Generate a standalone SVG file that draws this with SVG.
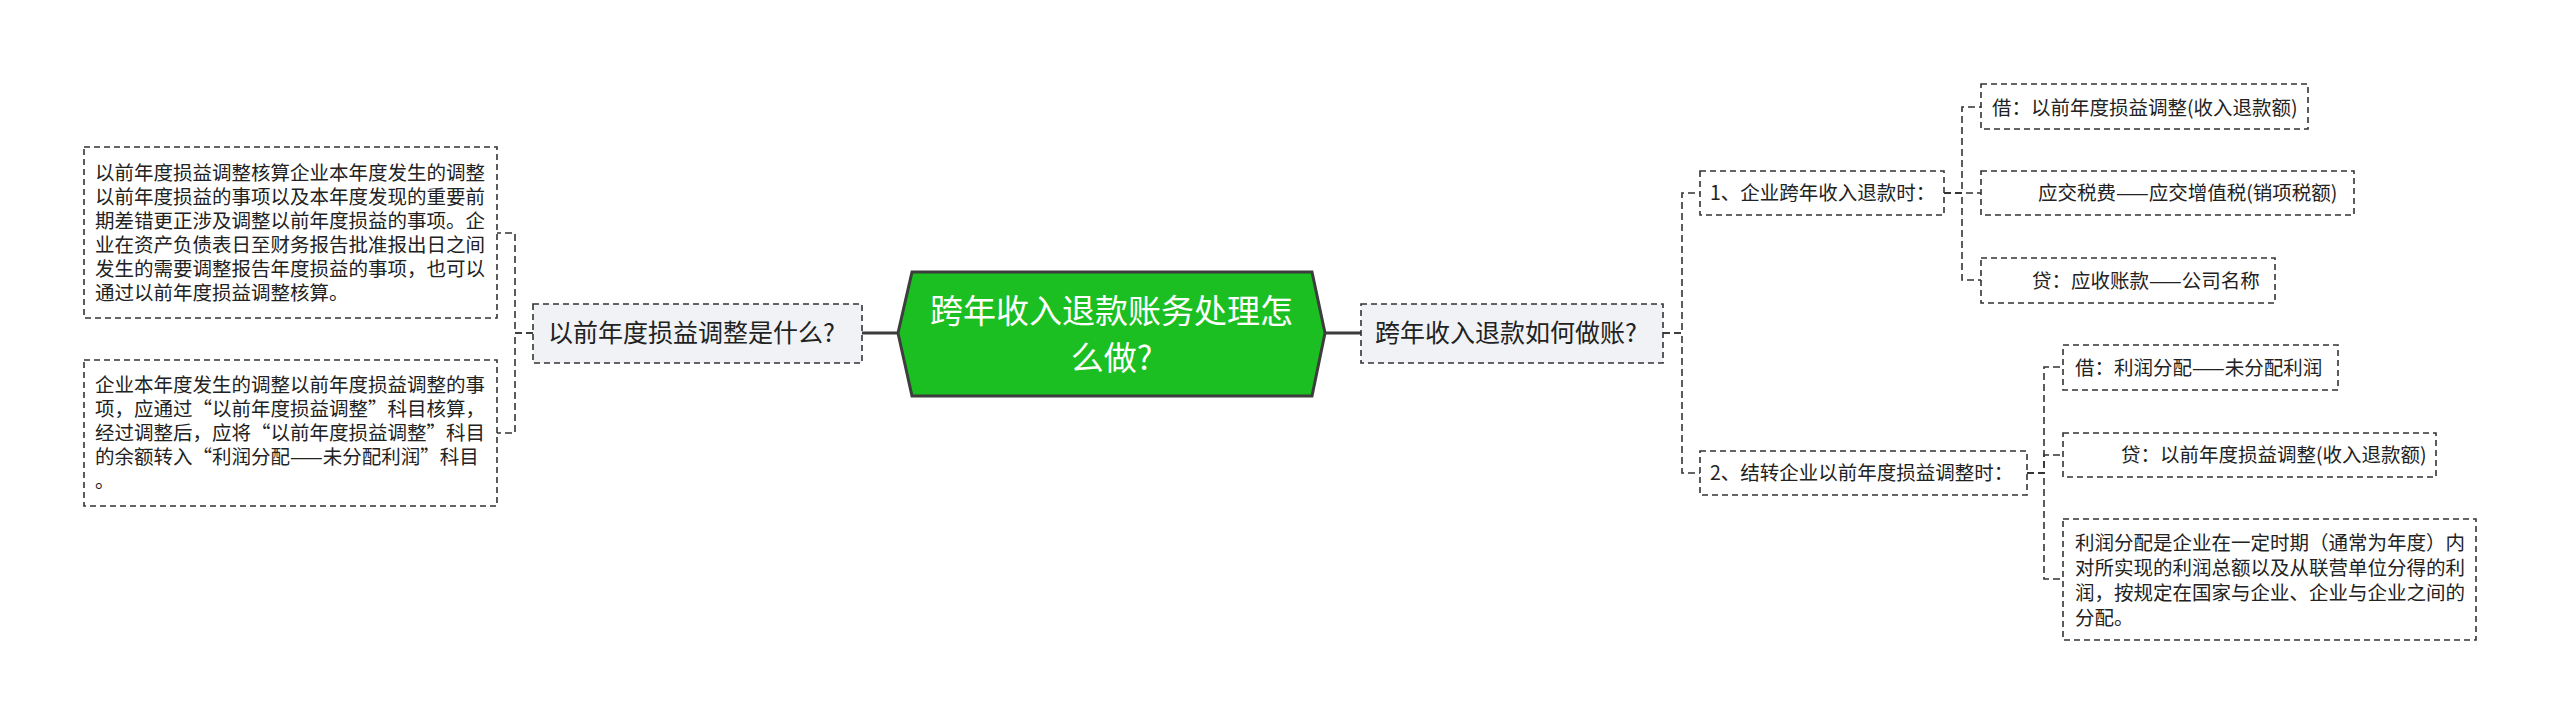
<svg xmlns="http://www.w3.org/2000/svg" width="2560" height="724" viewBox="0 0 2560 724">
<style>
text{font-family:"Noto Sans CJK SC","Noto Sans",sans-serif;fill:#222;}
.box{fill:#fff;stroke:#333;stroke-width:1.6;stroke-dasharray:6 4;}
.sub{fill:#f0f2f5;stroke:#333;stroke-width:1.6;stroke-dasharray:6 4;}
.dc{fill:none;stroke:#333;stroke-width:1.6;stroke-dasharray:7 4;}
.sc{fill:none;stroke:#3c3c3c;stroke-width:3;}
.t19{font-size:19.5px;}
.t25{font-size:25px;}
.t33{font-size:33px;fill:#fff;}
</style>
<rect width="2560" height="724" fill="#fff"/>
<g id="connectors">
<path class="sc" d="M862,333 H898"/>
<path class="sc" d="M1325,333 H1361"/>
<path class="dc" d="M533,333 H515 V233 H497"/>
<path class="dc" d="M533,333 H515 V433 H497"/>
<path class="dc" d="M1663,333 H1682 V193 H1700"/>
<path class="dc" d="M1663,333 H1682 V473 H1700"/>
<path class="dc" d="M1944,193 H1962 V107 H1981"/>
<path class="dc" d="M1944,193 H1981"/>
<path class="dc" d="M1944,193 H1962 V280 H1981"/>
<path class="dc" d="M2027,473 H2044 V367 H2063"/>
<path class="dc" d="M2027,473 H2044 V455 H2063"/>
<path class="dc" d="M2027,473 H2044 V579 H2063"/>
</g>
<g id="root">
<polygon points="898,333 912,272 1312,272 1325,333 1312,396 912,396" fill="#1bbf21" stroke="#3d3d3d" stroke-width="3"/>
<text class="t33" x="1111.5" y="323" text-anchor="middle">跨年收入退款账务处理怎</text>
<text class="t33" x="1111.5" y="370" text-anchor="middle">么做?</text>
</g>
<g id="node-left">
<rect class="sub" x="533" y="304" width="329" height="59"/>
<text class="t25" x="548" y="342">以前年度损益调整是什么?</text>
</g>
<g id="node-left-1">
<rect class="box" x="84" y="147" width="413" height="171"/>
<text class="t19" x="95" y="180">以前年度损益调整核算企业本年度发生的调整</text>
<text class="t19" x="95" y="204">以前年度损益的事项以及本年度发现的重要前</text>
<text class="t19" x="95" y="228">期差错更正涉及调整以前年度损益的事项。企</text>
<text class="t19" x="95" y="252">业在资产负债表日至财务报告批准报出日之间</text>
<text class="t19" x="95" y="276">发生的需要调整报告年度损益的事项，也可以</text>
<text class="t19" x="95" y="300">通过以前年度损益调整核算。</text>
</g>
<g id="node-left-2">
<rect class="box" x="84" y="360" width="413" height="146"/>
<text class="t19" x="95" y="392">企业本年度发生的调整以前年度损益调整的事</text>
<text class="t19" x="95" y="416">项，应通过“以前年度损益调整”科目核算，</text>
<text class="t19" x="95" y="440">经过调整后，应将“以前年度损益调整”科目</text>
<text class="t19" x="95" y="464">的余额转入“利润分配——未分配利润”科目</text>
<text class="t19" x="95" y="488">。</text>
</g>
<g id="node-right">
<rect class="sub" x="1361" y="304" width="302" height="59"/>
<text class="t25" x="1375" y="342">跨年收入退款如何做账?</text>
</g>
<g id="node-r1">
<rect class="box" x="1700" y="171" width="244" height="44"/>
<text class="t19" x="1710" y="200">1、企业跨年收入退款时：</text>
</g>
<g id="node-r1a">
<rect class="box" x="1981" y="84" width="327" height="45"/>
<text class="t19" x="1992" y="115">借：以前年度损益调整(收入退款额)</text>
</g>
<g id="node-r1b">
<rect class="box" x="1981" y="171" width="373" height="44"/>
<text class="t19" x="2038" y="200">应交税费——应交增值税(销项税额)</text>
</g>
<g id="node-r1c">
<rect class="box" x="1981" y="258" width="294" height="45"/>
<text class="t19" x="2032" y="288">贷：应收账款——公司名称</text>
</g>
<g id="node-r2">
<rect class="box" x="1700" y="451" width="327" height="44"/>
<text class="t19" x="1710" y="480">2、结转企业以前年度损益调整时：</text>
</g>
<g id="node-r2a">
<rect class="box" x="2063" y="345" width="275" height="45"/>
<text class="t19" x="2075" y="375">借：利润分配——未分配利润</text>
</g>
<g id="node-r2b">
<rect class="box" x="2063" y="433" width="373" height="44"/>
<text class="t19" x="2121" y="462">贷：以前年度损益调整(收入退款额)</text>
</g>
<g id="node-r2c">
<rect class="box" x="2063" y="519" width="413" height="121"/>
<text class="t19" x="2075" y="550">利润分配是企业在一定时期（通常为年度）内</text>
<text class="t19" x="2075" y="575">对所实现的利润总额以及从联营单位分得的利</text>
<text class="t19" x="2075" y="600">润，按规定在国家与企业、企业与企业之间的</text>
<text class="t19" x="2075" y="625">分配。</text>
</g>
</svg>
